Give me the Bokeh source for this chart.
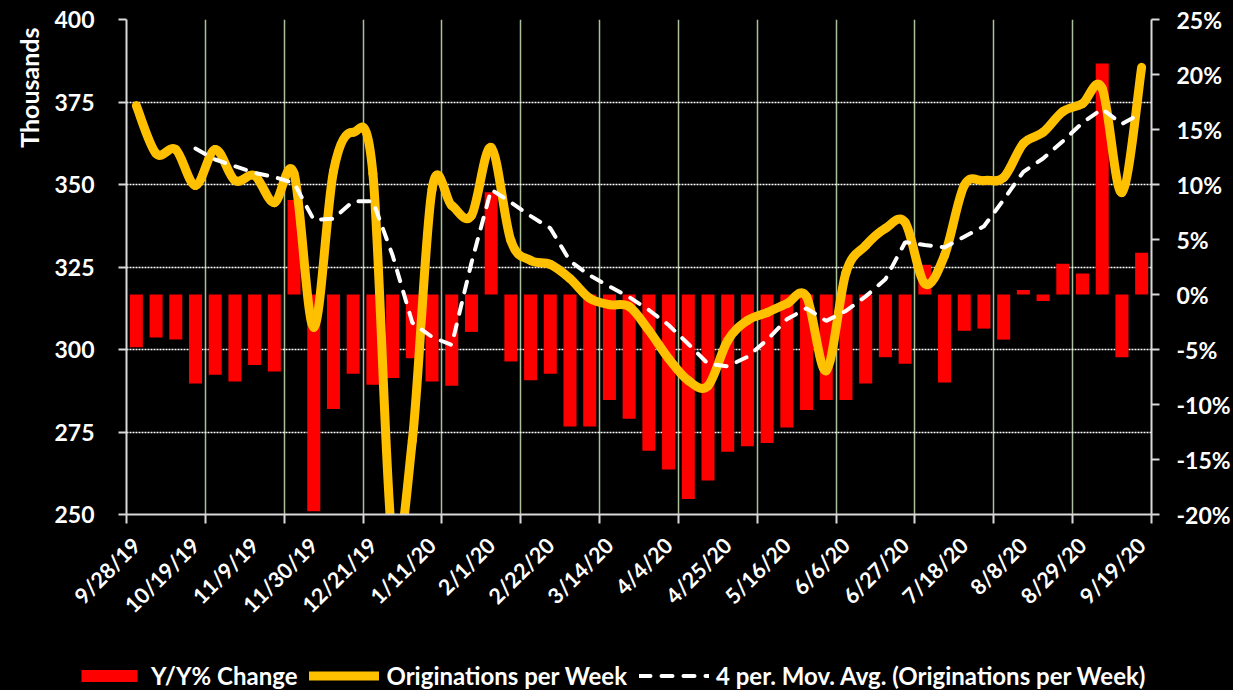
import math
import pandas as pd
from bokeh.plotting import figure
from bokeh.layouts import column
from bokeh.models import (Range1d, LinearAxis, FixedTicker, PrintfTickFormatter,
                          Legend, LegendItem, Title)
from bokeh.embed import file_html
from bokeh.resources import INLINE

# ---- data -------------------------------------------------------------
weeks = list(range(52))  # weekly observations 9/28/19 .. 9/19/20
tick_weeks = [0, 3, 6, 9, 12, 15, 18, 21, 24, 27, 30, 33, 36, 39, 42, 45, 48, 51]
tick_labels = ["9/28/19", "10/19/19", "11/9/19", "11/30/19", "12/21/19", "1/11/20",
               "2/1/20", "2/22/20", "3/14/20", "4/4/20", "4/25/20", "5/16/20",
               "6/6/20", "6/27/20", "7/18/20", "8/8/20", "8/29/20", "9/19/20"]

yoy_pct = [-4.8, -3.9, -4.1, -8.1, -7.3, -7.9, -6.4, -7.0, 8.6, -19.7,
           -10.4, -7.2, -8.2, -7.6, -5.8, -7.9, -8.3, -3.4, 9.3, -6.1,
           -7.8, -7.2, -12.0, -12.0, -9.6, -11.3, -14.2, -15.9, -18.6, -16.9,
           -14.3, -13.8, -13.5, -12.1, -10.5, -9.6, -9.6, -8.1, -5.7, -6.3,
           2.7, -8.0, -3.3, -3.1, -4.1, 0.4, -0.6, 2.8, 1.9, 21.0,
           -5.7, 3.8]

originations = [373.9, 359.4, 360.6, 349.7, 360.6, 351.2, 352.7, 344.5, 353.3, 306.7,
                354.0, 365.8, 353.3, 241.0, 272.4, 348.5, 343.6, 340.6, 361.2, 333.0,
                327.0, 325.8, 321.5, 315.5, 313.6, 313.0, 305.8, 297.3, 290.6, 289.0,
                302.7, 308.8, 311.2, 313.9, 316.0, 293.6, 323.3, 331.5, 336.7, 338.5,
                320.0, 328.5, 349.7, 351.2, 352.1, 362.4, 365.8, 372.1, 374.5, 379.1,
                347.6, 385.5]

series_names = ["Y/Y% Change", "Originations per Week",
                "4 per. Mov. Avg. (Originations per Week)"]

# ---- derived ----------------------------------------------------------
xc = [w + 0.5 for w in weeks]
ma4 = pd.Series(originations).rolling(4).mean().tolist()

# smoothed (Excel-style) curve via Bezier segments through the points
n = len(xc)
bx0, by0, bx1, by1, cx0, cy0, cx1, cy1 = [], [], [], [], [], [], [], []
for i in range(n - 1):
    im1 = max(i - 1, 0)
    ip2 = min(i + 2, n - 1)
    bx0.append(xc[i]); by0.append(originations[i])
    bx1.append(xc[i + 1]); by1.append(originations[i + 1])
    cx0.append(xc[i] + (xc[i + 1] - xc[im1]) / 6)
    cy0.append(originations[i] + (originations[i + 1] - originations[im1]) / 6)
    cx1.append(xc[i + 1] - (xc[ip2] - xc[i]) / 6)
    cy1.append(originations[i + 1] - (originations[ip2] - originations[i]) / 6)

FONT = "Lato"
AX = "#d9d9d9"
RED = "#ff0000"
GOLD = "#FFC000"

MAIN_H = 656
LEG_H = 34

p = figure(width=1233, height=MAIN_H, x_range=Range1d(0, 52), y_range=Range1d(250, 400),
           output_backend="svg", toolbar_location=None,
           min_border_left=126, min_border_right=81, min_border_top=19,
           min_border_bottom=MAIN_H - 514,
           background_fill_color="black", border_fill_color="black", outline_line_color=None)
p.frame_align = False
p.extra_y_ranges = {"pct": Range1d(-20, 25)}

# grids
p.xgrid.ticker = FixedTicker(ticks=list(range(4, 52, 4)))
p.xgrid.grid_line_color = "#a9c09a"
p.xgrid.grid_line_width = 1.5
p.ygrid.ticker = FixedTicker(ticks=[275, 300, 325, 350, 375, 400])
p.ygrid.grid_line_color = "white"
p.ygrid.grid_line_width = 1.5
p.ygrid.grid_line_dash = "2 1"

# bars
p.vbar(x=xc, top=yoy_pct, bottom=0, width=0.66, fill_color=RED,
       line_color=None, y_range_name="pct")

# originations smoothed line
p.bezier(x0=bx0, y0=by0, x1=bx1, y1=by1, cx0=cx0, cy0=cy0, cx1=cx1, cy1=cy1,
         line_color=GOLD, line_width=9, line_cap="round")

# moving average
p.line(x=xc[3:], y=ma4[3:], line_color="white", line_width=4,
       line_dash="11 11", line_cap="round")

# x axis
xa = p.xaxis[0]
xa.ticker = FixedTicker(ticks=[w + 0.5 for w in tick_weeks], minor_ticks=list(range(0, 53, 4)))
xa.major_label_overrides = {w + 0.5: lab for w, lab in zip(tick_weeks, tick_labels)}
xa.major_label_orientation = math.pi / 4
xa.major_tick_line_color = None
xa.major_tick_out = 9
xa.minor_tick_line_color = AX
xa.minor_tick_line_width = 2
xa.minor_tick_out = 9
xa.minor_tick_in = 0
xa.axis_line_color = AX
xa.axis_line_width = 2
xa.major_label_standoff = 18
xa.major_label_text_font = FONT
xa.major_label_text_font_style = "bold"
xa.major_label_text_font_size = "21.5px"
xa.major_label_text_color = "white"

# left axis
ya = p.yaxis[0]
ya.ticker = FixedTicker(ticks=[250, 275, 300, 325, 350, 375, 400])
ya.minor_tick_line_color = None
ya.major_tick_line_color = AX
ya.major_tick_line_width = 2
ya.major_tick_out = 8
ya.major_tick_in = 0
ya.axis_line_color = AX
ya.axis_line_width = 2
ya.major_label_standoff = 24
ya.major_label_text_font = FONT
ya.major_label_text_font_style = "bold"
ya.major_label_text_font_size = "23px"
ya.major_label_text_color = "white"

p.add_layout(Title(text="Thousands", align="right", text_font=FONT, text_font_style="bold",
                   text_font_size="25px", text_color="white", offset=8, standoff=16), "left")

# right axis
ra = LinearAxis(y_range_name="pct",
                ticker=FixedTicker(ticks=[-20, -15, -10, -5, 0, 5, 10, 15, 20, 25]),
                formatter=PrintfTickFormatter(format="%d%%"))
ra.minor_tick_line_color = None
ra.major_tick_line_color = AX
ra.major_tick_line_width = 2
ra.major_tick_out = 8
ra.major_tick_in = 0
ra.axis_line_color = AX
ra.axis_line_width = 2
ra.major_label_standoff = 17
ra.major_label_text_font = FONT
ra.major_label_text_font_style = "bold"
ra.major_label_text_font_size = "23px"
ra.major_label_text_color = "white"
p.add_layout(ra, "right")

# legend strip: its own figure whose frame spans the whole strip
lf = figure(width=1233, height=LEG_H, x_range=Range1d(0, 1), y_range=Range1d(0, 1),
            x_axis_type=None, y_axis_type=None, output_backend="svg", toolbar_location=None,
            min_border=0, background_fill_color="black", border_fill_color="black",
            outline_line_color=None)
lf.frame_align = False
# key glyphs (their points lie outside the strip's ranges, so only the legend shows them)
lg_bar = lf.vbar(x=[-10], top=[-10], width=0.5, fill_color=RED, line_color=None)
lg_orig = lf.line(x=[-10, -9], y=[-10, -10], line_color=GOLD, line_width=9, line_cap="round")
lg_ma = lf.line(x=[-10, -9], y=[-10, -10], line_color="white", line_width=4,
                line_dash="11 11", line_cap="round")

legend = Legend(items=[LegendItem(label=series_names[0], renderers=[lg_bar]),
                       LegendItem(label=series_names[1], renderers=[lg_orig]),
                       LegendItem(label=series_names[2], renderers=[lg_ma])],
                orientation="horizontal", location=(74, 0),
                background_fill_alpha=0, border_line_color=None,
                padding=0, margin=0, spacing=12,
                glyph_width=70, glyph_height=15, label_standoff=7, label_height=24,
                label_text_font=FONT, label_text_font_style="bold",
                label_text_font_size="24px", label_text_color="white")
lf.add_layout(legend, "center")

layout = column(p, lf, spacing=0)
layout.styles = {"background-color": "black"}
open("out.html", "w").write(file_html(layout, INLINE))
